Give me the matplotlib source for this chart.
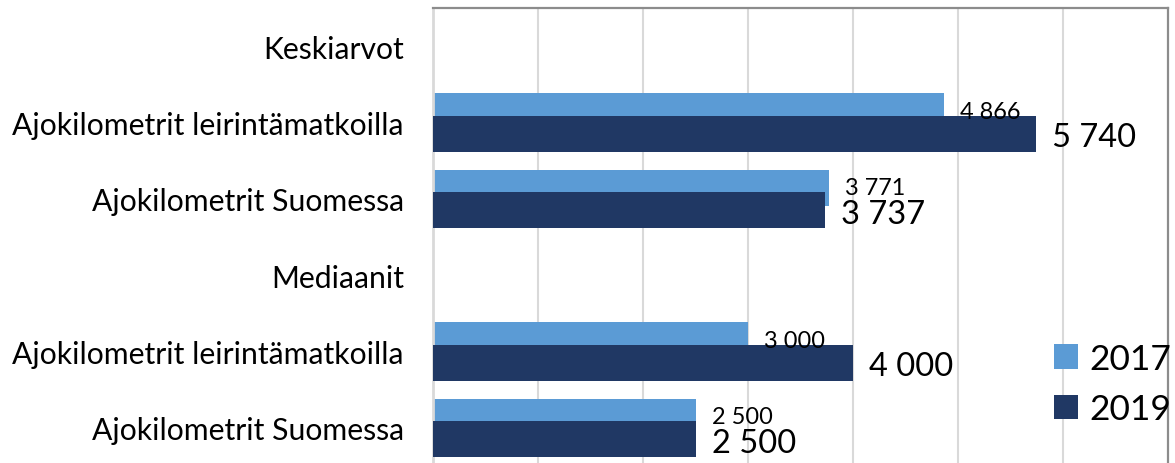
import numpy as np
import matplotlib
matplotlib.use("Agg")
import matplotlib.pyplot as plt
from matplotlib.patches import Patch

categories = ["Keskiarvot", "Ajokilometrit leirintämatkoilla", "Ajokilometrit Suomessa",
              "Mediaanit", "Ajokilometrit leirintämatkoilla", "Ajokilometrit Suomessa"]
series_names = ["2017", "2019"]
values_2017 = [np.nan, 4866, 3771, np.nan, 3000, 2500]
values_2019 = [np.nan, 5740, 3737, np.nan, 4000, 2500]

c2017 = "#5B9BD5"
c2019 = "#203864"
FONT = "Lato"

W, H = 1175, 464
fig = plt.figure(figsize=(W / 100, H / 100), dpi=100)
left, right, top, bottom = 433, 1168, 9, 467
ax = fig.add_axes([left / W, 1 - bottom / H, (right - left) / W, (bottom - top) / H])

y = np.arange(len(categories))
bh = 0.472
off = 0.145

def fmt(v):
    return f"{int(v):,}".replace(",", " ")

ax.barh(y - off, values_2017, height=bh, color=c2017, zorder=2)
ax.barh(y + off, values_2019, height=bh, color=c2019, zorder=3)

for yi, v in zip(y, values_2017):
    if not np.isnan(v):
        ax.annotate(fmt(v), (v, yi - off), xytext=(16, 0), textcoords="offset pixels",
                    ha="left", va="center", fontsize=16.9, family=FONT, color="black", zorder=5)
for yi, v in zip(y, values_2019):
    if not np.isnan(v):
        ax.annotate(fmt(v), (v, yi + off + 0.05), xytext=(16, 0), textcoords="offset pixels",
                    ha="left", va="center", fontsize=23.5, family=FONT, color="black", zorder=5)

ax.set_xlim(0, 7000)
ax.set_ylim(len(categories) - 0.5, -0.5)
ax.set_xticks(np.arange(1000, 7000, 1000))
ax.set_xticklabels([])
ax.tick_params(axis="x", length=0)
ax.grid(axis="x", color="#D9D9D9", lw=1.5, zorder=0)
ax.set_axisbelow(True)
ax.set_yticks(y)
ax.set_yticklabels(categories, family=FONT, fontsize=21.7)
ax.tick_params(axis="y", length=0, pad=21)

ax.spines["left"].set_color("#D9D9D9")
ax.spines["left"].set_linewidth(2)
ax.spines["bottom"].set_visible(False)
for s in ["top", "right"]:
    ax.spines[s].set_color("#8C8C8C")
    ax.spines[s].set_linewidth(1.6)

handles = [Patch(facecolor=c2017), Patch(facecolor=c2019)]
leg = fig.legend(handles, series_names, loc="upper left",
                 bbox_to_anchor=(1054 / W, 1 - 344 / H), frameon=False,
                 prop={"family": FONT, "size": 25.5}, handlelength=0.68, handleheight=0.68,
                 handletextpad=0.33, labelspacing=0.52, borderpad=0, borderaxespad=0)

fig.savefig("out.png", dpi=100)
